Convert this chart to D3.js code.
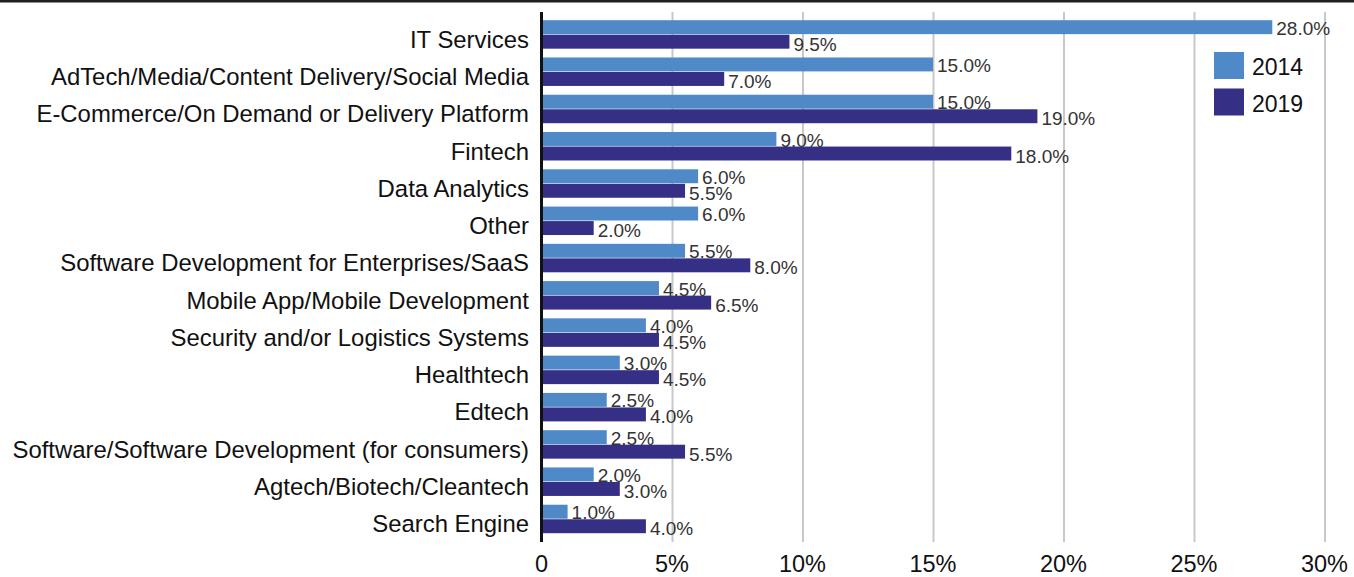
<!DOCTYPE html>
<html lang="en">
<head>
  <meta charset="UTF-8">
  <title>Startup sectors 2014 vs 2019</title>
  <script src="https://d3js.org/d3.v7.min.js"></script>
  <style>
    body { margin: 0; background: #fff; }
    svg { display: block; font-family: "Liberation Sans", Arial, sans-serif; }
    .grid line { stroke: #c8c8c8; stroke-width: 2px; }
    .grid path { display: none; }
  </style>
</head>
<body>

<svg width="1354" height="577"></svg>

<script>
  // Categories, top to bottom
  var categories = [
    "IT Services",
    "AdTech/Media/Content Delivery/Social Media",
    "E-Commerce/On Demand or Delivery Platform",
    "Fintech",
    "Data Analytics",
    "Other",
    "Software Development for Enterprises/SaaS",
    "Mobile App/Mobile Development",
    "Security and/or Logistics Systems",
    "Healthtech",
    "Edtech",
    "Software/Software Development (for consumers)",
    "Agtech/Biotech/Cleantech",
    "Search Engine"
  ];

  var seriesNames = ["2014", "2019"];
  var values2014 = [28.0, 15.0, 15.0, 9.0, 6.0, 6.0, 5.5, 4.5, 4.0, 3.0, 2.5, 2.5, 2.0, 1.0];
  var values2019 = [9.5, 7.0, 19.0, 18.0, 5.5, 2.0, 8.0, 6.5, 4.5, 4.5, 4.0, 5.5, 3.0, 4.0];
  var tickValues = [0, 5, 10, 15, 20, 25, 30];
  var colors = ["#4f89c8", "#352f86"];

  var svg = d3.select("svg"),
      width = +svg.attr("width"),
      height = +svg.attr("height");

  var plotLeft = 541.5, plotRight = 1324.5, plotTop = 12, plotBottom = 542;

  // Top rule
  svg.append("line")
    .attr("x1", 0).attr("x2", width)
    .attr("y1", 1).attr("y2", 1)
    .attr("stroke", "#231f20")
    .attr("stroke-width", 3);

  var x = d3.scaleLinear().domain([0, 30]).range([plotLeft, plotRight]);

  var y = d3.scaleBand()
    .domain(categories)
    .range([plotTop, plotBottom])
    .paddingInner(0.22)
    .paddingOuter(0.22);

  var ySub = d3.scaleBand()
    .domain(seriesNames)
    .range([0, y.bandwidth()])
    .padding(0);

  // Gridlines
  svg.append("g")
    .attr("class", "grid")
    .attr("transform", "translate(0," + plotBottom + ")")
    .call(d3.axisBottom(x).tickValues(tickValues.slice(1)).tickSize(-(plotBottom - plotTop)).tickFormat(""));

  var rows = categories.map(function(c, i) {
    return { name: c, vals: [values2014[i], values2019[i]] };
  });

  var groups = svg.append("g").selectAll("g")
    .data(rows)
    .join("g")
    .attr("transform", function(d) { return "translate(0," + y(d.name) + ")"; });

  function pairs(d) {
    return d.vals.map(function(v, j) { return { key: seriesNames[j], v: v, j: j }; });
  }

  groups.selectAll("rect")
    .data(pairs)
    .join("rect")
    .attr("x", x(0))
    .attr("y", function(d) { return ySub(d.key); })
    .attr("width", function(d) { return x(d.v) - x(0); })
    .attr("height", ySub.bandwidth() - 0.6)
    .attr("fill", function(d) { return colors[d.j]; });

  // Value labels
  groups.selectAll("text.val")
    .data(pairs)
    .join("text")
    .attr("class", "val")
    .attr("x", function(d) { return x(d.v) + 4; })
    .attr("y", function(d) { return ySub(d.key) + ySub.bandwidth() + (d.j ? 1.5 : 0); })
    .attr("font-size", "19px")
    .attr("fill", "#333")
    .text(function(d) { return d.v.toFixed(1) + "%"; });

  // Category labels
  groups.append("text")
    .attr("x", 529)
    .attr("y", y.bandwidth() - 1.5)
    .attr("text-anchor", "end")
    .attr("font-size", "23.9px")
    .attr("fill", "#111")
    .text(function(d) { return d.name; });

  // Zero axis line
  svg.append("line")
    .attr("x1", x(0)).attr("x2", x(0))
    .attr("y1", plotTop).attr("y2", plotBottom)
    .attr("stroke", "#111")
    .attr("stroke-width", 3);

  // X tick labels
  svg.append("g").selectAll("text")
    .data(tickValues)
    .join("text")
    .attr("x", function(d) { return x(d); })
    .attr("y", 572)
    .attr("text-anchor", "middle")
    .attr("font-size", "23.5px")
    .attr("fill", "#111")
    .text(function(d) { return d === 0 ? "0" : d + "%"; });

  // Legend
  var legend = svg.append("g").selectAll("g")
    .data(seriesNames)
    .join("g")
    .attr("transform", function(d, i) { return "translate(1214," + (52 + i * 36.5) + ")"; });

  legend.append("rect")
    .attr("width", 30).attr("height", 27)
    .attr("fill", function(d, i) { return colors[i]; });

  legend.append("text")
    .attr("x", 38).attr("y", 23)
    .attr("font-size", "23px")
    .attr("fill", "#111")
    .text(function(d) { return d; });
</script>

</body>
</html>
